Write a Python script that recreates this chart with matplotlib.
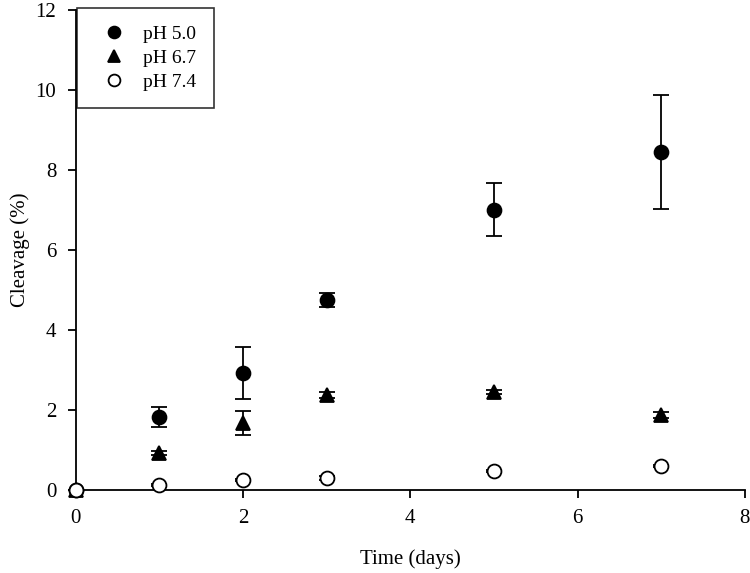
import matplotlib
matplotlib.use("Agg")
import matplotlib.pyplot as plt

plt.rcParams["font.family"] = ["Liberation Serif", "DejaVu Serif"]

days = [0, 1, 2, 3, 5, 7]

ph50 = [0.0, 1.82, 2.92, 4.75, 7.0, 8.45]
ph50_err = [0.0, 0.25, 0.64, 0.18, 0.66, 1.42]

ph67 = [0.0, 0.93, 1.68, 2.37, 2.45, 1.87]
ph67_err = [0.0, 0.05, 0.30, 0.07, 0.05, 0.07]

ph74 = [0.0, 0.13, 0.25, 0.30, 0.47, 0.60]
ph74_err = [0.0, 0.03, 0.03, 0.04, 0.03, 0.03]

fig = plt.figure(figsize=(7.5, 5.73), dpi=100)
ax = fig.add_axes([0.101, 0.145, 0.892, 0.838])

common = dict(ls="none", ecolor="black", elinewidth=1.3, capsize=6, capthick=1.3,
              markersize=10, markeredgecolor="black", markeredgewidth=1.3)
ax.errorbar(days, ph50, yerr=ph50_err, fmt="o", color="black", label="pH 5.0", **common)
ax.errorbar(days, ph67, yerr=ph67_err, fmt="^", color="black", label="pH 6.7", **common)
ax.errorbar(days, ph74, yerr=ph74_err, fmt="o", color="black", markerfacecolor="white",
            label="pH 7.4", **common)

ax.set_xlim(0, 8)
ax.set_ylim(0, 12)
ax.set_xticks([0, 2, 4, 6, 8])
ax.set_yticks([0, 2, 4, 6, 8, 10, 12])
ax.spines["top"].set_visible(False)
ax.spines["right"].set_visible(False)
for s in ("left", "bottom"):
    ax.spines[s].set_linewidth(1.3)
    ax.spines[s].set_zorder(1)
ax.tick_params(direction="out", length=6, width=1.3, labelsize=15, pad=8)
for m in ax.get_lines():
    m.set_clip_on(False)

ax.set_xlabel("Time (days)", fontsize=15, labelpad=15)
ax.set_ylabel("Cleavage (%)", fontsize=15, labelpad=4)

handles, labels = ax.get_legend_handles_labels()
handles = [h[0] for h in handles]
leg = ax.legend(handles, labels, loc="upper left", bbox_to_anchor=(0.002, 1.004),
                fontsize=14, frameon=True, fancybox=False, edgecolor="black",
                borderpad=0.9, handlelength=2.0, handletextpad=0.5, labelspacing=0.33,
                markerscale=0.85, borderaxespad=0)
leg.get_frame().set_linewidth(1.2)

fig.savefig("out.png", dpi=100)
